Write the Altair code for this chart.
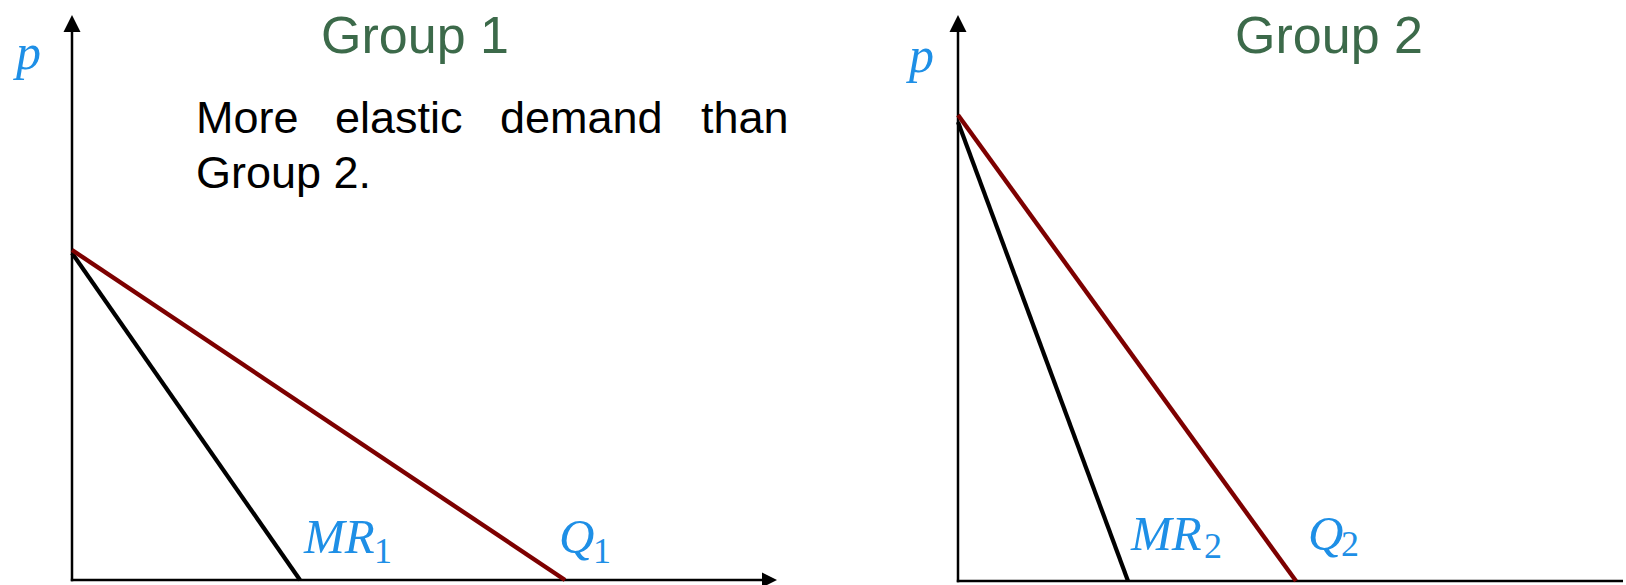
import altair as alt
import pandas as pd

# Linear demand and marginal revenue for two customer groups
# (quantity q on the horizontal axis, price p on the vertical axis)
g1_demand_q = [0.0, 49.3]
g1_demand_p = [33.0, 0.0]
g1_mr_q = [0.0, 22.8]
g1_mr_p = [32.7, 0.0]

g2_demand_q = [0.0, 33.8]
g2_demand_p = [46.6, 0.0]
g2_mr_q = [0.0, 17.0]
g2_mr_p = [45.9, 0.0]

panel_titles = ["Group 1", "Group 2"]
note_words = ["More", "elastic", "demand", "than"]
note_second_line = "Group 2."

DEMAND_COLOR = "#7d0000"
MR_COLOR = "#000000"
LABEL_BLUE = "#1e8fe6"
TITLE_GREEN = "#3c6a4a"
SANS = "Liberation Sans"
SERIF = "Liberation Serif"

UP_ARROW = "M0,-1L1,1L-1,1Z"
RIGHT_ARROW = "M1,0L-1,-1L-1,1Z"


def panel(width, xdom, ydom, dq, dp, mq, mp, y_top, x_end, x_arrow, title, title_pos,
          p_pos, mr_pos, q_pos, sub, extra_text=None):
    xs = alt.Scale(domain=xdom, nice=False, zero=False)
    ys = alt.Scale(domain=ydom, nice=False, zero=False)

    def X(f):
        return alt.X(f"{f}:Q", scale=xs, axis=None)

    def Y(f):
        return alt.Y(f"{f}:Q", scale=ys, axis=None)

    layers = []

    # axes drawn as plain rules from the origin
    axes = pd.DataFrame({
        "q": [0.0, -0.12],
        "p": [-0.12, 0.0],
        "q2": [0.0, x_end],
        "p2": [y_top - 1.0, 0.0],
    })
    layers.append(
        alt.Chart(axes).mark_rule(color="black", strokeWidth=2.5)
        .encode(x=X("q"), y=Y("p"), x2="q2:Q", y2="p2:Q")
    )

    # arrow heads
    up = pd.DataFrame({"q": [0.0], "p": [y_top - 0.85]})
    layers.append(
        alt.Chart(up).mark_point(shape=UP_ARROW, filled=True, size=289, color="black",
                                 opacity=1, strokeWidth=0)
        .encode(x=X("q"), y=Y("p"))
    )
    if x_arrow is not None:
        right = pd.DataFrame({"q": [x_arrow], "p": [0.0]})
        layers.append(
            alt.Chart(right).mark_point(shape=RIGHT_ARROW, filled=True, size=225, color="black",
                                        opacity=1, strokeWidth=0)
            .encode(x=X("q"), y=Y("p"))
        )

    mr = pd.DataFrame({"q": mq, "p": mp})
    layers.append(
        alt.Chart(mr).mark_line(color=MR_COLOR, strokeWidth=4.2, strokeCap="butt")
        .encode(x=X("q"), y=Y("p"))
    )
    dem = pd.DataFrame({"q": dq, "p": dp})
    layers.append(
        alt.Chart(dem).mark_line(color=DEMAND_COLOR, strokeWidth=4.4, strokeCap="butt")
        .encode(x=X("q"), y=Y("p"))
    )

    def text_layer(rows, **style):
        df = pd.DataFrame(rows, columns=["q", "p", "t"])
        return (
            alt.Chart(df).mark_text(align="left", baseline="alphabetic", **style)
            .encode(x=X("q"), y=Y("p"), text="t:N")
        )

    # price axis label
    layers.append(text_layer([(p_pos[0], p_pos[1], "p")],
                             font=SERIF, fontSize=50, fontStyle="italic", color=LABEL_BLUE))
    # curve labels with subscripts
    layers.append(text_layer([(mr_pos[0], mr_pos[1], "MR"), (q_pos[0], q_pos[1], "Q")],
                             font=SERIF, fontSize=49, fontStyle="italic", color=LABEL_BLUE))
    layers.append(text_layer([(mr_pos[2], mr_pos[3], sub), (q_pos[2], q_pos[3], sub)],
                             font=SERIF, fontSize=36, color=LABEL_BLUE))

    # panel title
    tdf = pd.DataFrame({"q": [title_pos[0]], "p": [title_pos[1]], "t": [title]})
    layers.append(
        alt.Chart(tdf).mark_text(align="center", baseline="alphabetic", font=SANS,
                                 fontSize=52, color=TITLE_GREEN)
        .encode(x=X("q"), y=Y("p"), text="t:N")
    )

    if extra_text is not None:
        layers.append(text_layer(extra_text, font=SANS, fontSize=45, color="black"))

    return alt.layer(*layers).properties(width=width, height=585)


# justified two-line note in the first panel
note_rows = list(zip([12.4, 26.3, 42.8, 62.9], [44.7] * 4, note_words))
note_rows.append((12.4, 39.2, note_second_line))

left = panel(
    830, [-7.2, 75.8], [-0.5, 58.0],
    g1_demand_q, g1_demand_p, g1_mr_q, g1_mr_p,
    y_top=56.5, x_end=69.6, x_arrow=69.75,
    title=panel_titles[0], title_pos=(34.3, 52.7),
    p_pos=(-5.6, 51.1),
    mr_pos=(23.2, 2.7, 30.2, 1.7), q_pos=(48.7, 2.7, 52.1, 1.7),
    sub="1", extra_text=note_rows,
)

right = panel(
    796, [-12.8, 66.8], [-0.4, 58.1],
    g2_demand_q, g2_demand_p, g2_mr_q, g2_mr_p,
    y_top=56.6, x_end=66.5, x_arrow=None,
    title=panel_titles[1], title_pos=(37.1, 52.8),
    p_pos=(-4.9, 50.9),
    mr_pos=(17.3, 3.1, 24.6, 2.3), q_pos=(35.0, 3.1, 38.3, 2.5),
    sub="2",
)

chart = (
    alt.hconcat(left, right, spacing=0)
    .properties(padding=0, background="white")
    .configure_view(strokeWidth=0)
)

chart.save("out.html", embed_options={"renderer": "svg", "actions": False})
